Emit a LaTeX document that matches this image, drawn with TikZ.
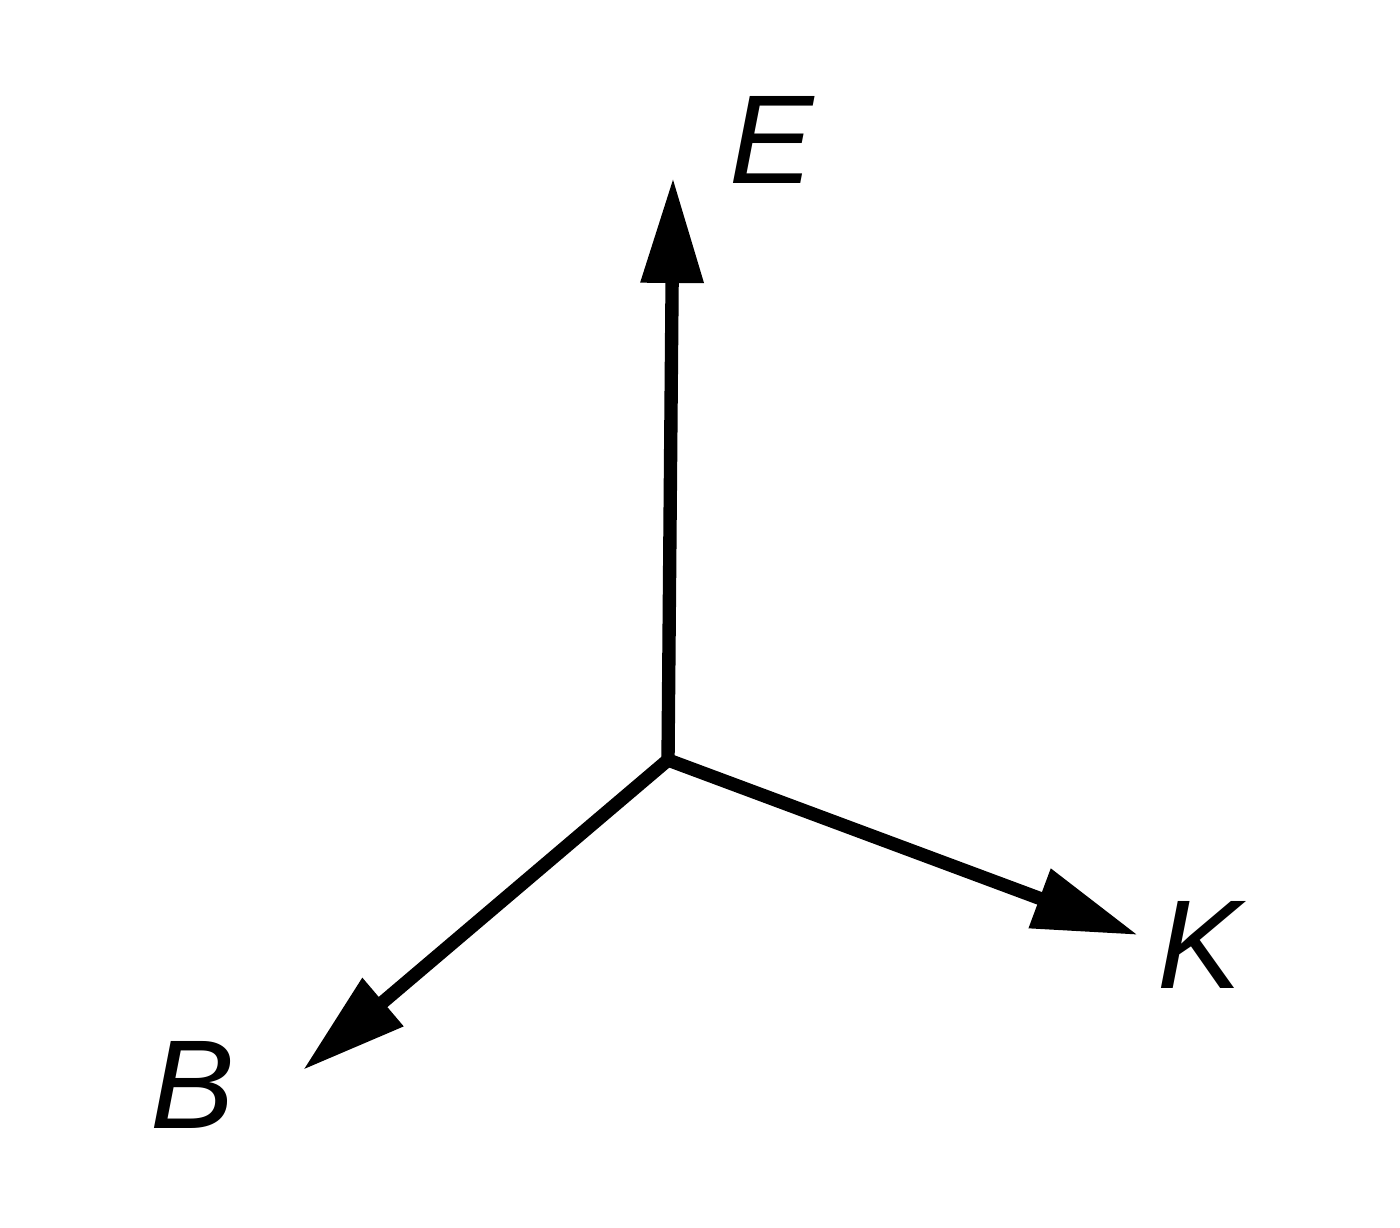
\documentclass[tikz,border=0pt]{standalone}
\usepackage{fontspec}
\setmainfont{Liberation Sans}
\usepackage{tikz}
\usetikzlibrary{arrows.meta,positioning,calc}

\begin{document}
\begin{tikzpicture}[
    vec/.style={-{Triangle[length=1.05cm, width=0.6cm]}, line width=3.8pt},
    lbl/.style={font=\fontsize{36}{40}\selectfont\itshape, inner sep=0pt}
]
\useasboundingbox (0,0) rectangle (14,12.28);

% origin and tips
\coordinate (o) at (6.68, 4.68);
\coordinate (te) at (6.73, 10.50);
\coordinate (tk) at (11.38, 2.93);
\coordinate (tb) at (3.03, 1.58);

% labels
\node[lbl] (e) at (7.72, 10.88) {E};
\node[lbl] (k) at (12.00, 2.83) {K};
\node[lbl] (b) at (1.93, 1.43) {B};

% vectors
\draw[vec] (o) -- (te);
\draw[vec] (o) -- (tk);
\draw[vec] (o) -- (tb);

\end{tikzpicture}
\end{document}
